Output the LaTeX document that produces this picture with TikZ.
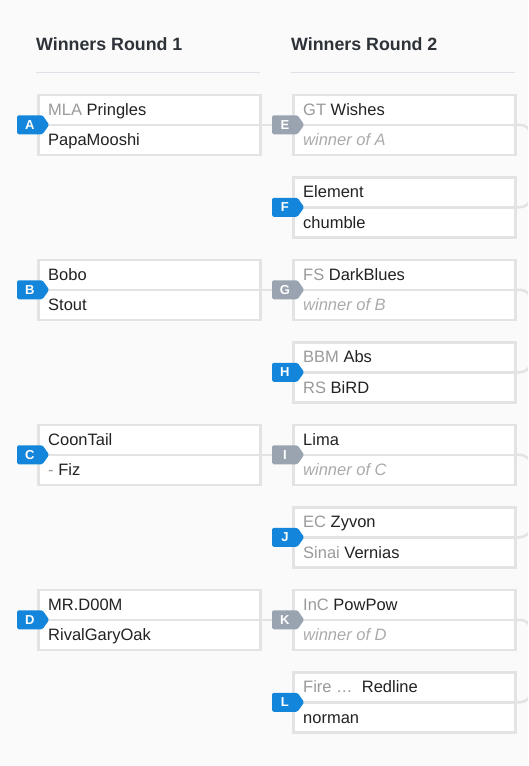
\documentclass[tikz,border=0pt]{standalone}
\usepackage{fontspec}
\setmainfont{Liberation Sans}
\usetikzlibrary{shapes.symbols,calc}
\definecolor{bgc}{HTML}{FAFAFA}
\definecolor{boxline}{HTML}{E3E3E3}
\definecolor{hdrc}{HTML}{2D3238}
\definecolor{rulec}{HTML}{DDE2E8}
\definecolor{seedc}{HTML}{9A9A9A}
\definecolor{namec}{HTML}{222222}
\definecolor{tbdc}{HTML}{ABABAB}
\definecolor{blueb}{HTML}{1386DB}
\definecolor{grayb}{HTML}{99A4B0}
\newcommand\sd[1]{\textcolor{seedc}{#1}}
\newcommand\tbd[1]{\textcolor{tbdc}{\itshape #1}}
\tikzset{
 matchbox/.style={draw=boxline, line width=2.5pt, fill=white, minimum width=222pt, minimum height=60pt, inner sep=0pt, anchor=north west},
 sepline/.style={draw=boxline, line width=2.5pt},
 conn/.style={draw=boxline, line width=2.5pt},
 rowtext/.style={anchor=base west, inner sep=0pt, text=namec, font=\fontsize{16.5}{19}\selectfont},
 hdr/.style={anchor=base west, inner sep=0pt, text=hdrc, font=\fontsize{17.8}{21}\selectfont\bfseries},
 rulel/.style={draw=rulec, line width=1pt},
 badge/.style={signal, signal to=east, signal pointer angle=110, minimum width=32pt, minimum height=19pt, inner sep=0pt, anchor=west, text=white, font=\fontsize{13}{13}\selectfont\bfseries, rounded corners=1.5pt},
 bblue/.style={badge, fill=blueb},
 bgray/.style={badge, fill=grayb},
}
\newcommand\matchnode[5]{%
 \node[matchbox] (#1) at (#2,#3) {};
 \draw[sepline] (#1.west) -- (#1.east);
 \node[rowtext] (#1r1) at ($(#1.north west)+(11,21.5)$) {#4};
 \node[rowtext] (#1r2) at ($(#1.north west)+(11,52)$) {#5};
}
\begin{document}
\begin{tikzpicture}[x=1pt,y=-1pt]
\useasboundingbox (0,0) rectangle (528,766);
\clip (0,0) rectangle (528,766);
\fill[bgc] (0,0) rectangle (528,766);
% headers
\node[hdr] (h1) at (36,50) {Winners Round 1};
\node[hdr] (h2) at (291,50) {Winners Round 2};
\draw[rulel] (36,72) -- (260,72);
\draw[rulel] (291,72) -- (515,72);
% round 1
\matchnode{A}{37}{93.5}{\sd{MLA} Pringles}{PapaMooshi}
\matchnode{B}{37}{258.5}{Bobo}{Stout}
\matchnode{C}{37}{423.5}{CoonTail}{\sd{-} Fiz}
\matchnode{D}{37}{588.5}{MR.D00M}{RivalGaryOak}
% round 2
\matchnode{E}{292}{93.5}{\sd{GT} Wishes}{\tbd{winner of A}}
\matchnode{F}{292}{176}{Element}{chumble}
\matchnode{G}{292}{258.5}{\sd{FS} DarkBlues}{\tbd{winner of B}}
\matchnode{H}{292}{341}{\sd{BBM} Abs}{\sd{RS} BiRD}
\matchnode{I}{292}{423.5}{Lima}{\tbd{winner of C}}
\matchnode{J}{292}{506}{\sd{EC} Zyvon}{\sd{Sinai} Vernias}
\matchnode{K}{292}{588.5}{\sd{InC} PowPow}{\tbd{winner of D}}
\matchnode{L}{292}{671}{\sd{Fire …}\ \ Redline}{norman}
% badges
\foreach \m in {A,B,C,D,F,H,J,L}{
  \node[bblue] (b\m) at ($(\m.west)+(-20,0)$) {\m};
}
\foreach \m in {E,G,I,K}{
  \node[bgray] (b\m) at ($(\m.west)+(-20,0)$) {\m};
}
% connectors round 1 -> round 2
\draw[conn] (A.east) -- (bE.west);
\draw[conn] (B.east) -- (bG.west);
\draw[conn] (C.east) -- (bI.west);
\draw[conn] (D.east) -- (bK.west);
% connectors leaving round 2
\coordinate (EF) at (531,165);
\coordinate (GH) at (531,330);
\coordinate (IJ) at (531,495);
\coordinate (KL) at (531,660);
\draw[conn, rounded corners=11pt] (E.east) -| (EF);
\draw[conn, rounded corners=11pt] (F.east) -| (EF);
\draw[conn, rounded corners=11pt] (G.east) -| (GH);
\draw[conn, rounded corners=11pt] (H.east) -| (GH);
\draw[conn, rounded corners=11pt] (I.east) -| (IJ);
\draw[conn, rounded corners=11pt] (J.east) -| (IJ);
\draw[conn, rounded corners=11pt] (K.east) -| (KL);
\draw[conn, rounded corners=11pt] (L.east) -| (KL);
\end{tikzpicture}
\end{document}
